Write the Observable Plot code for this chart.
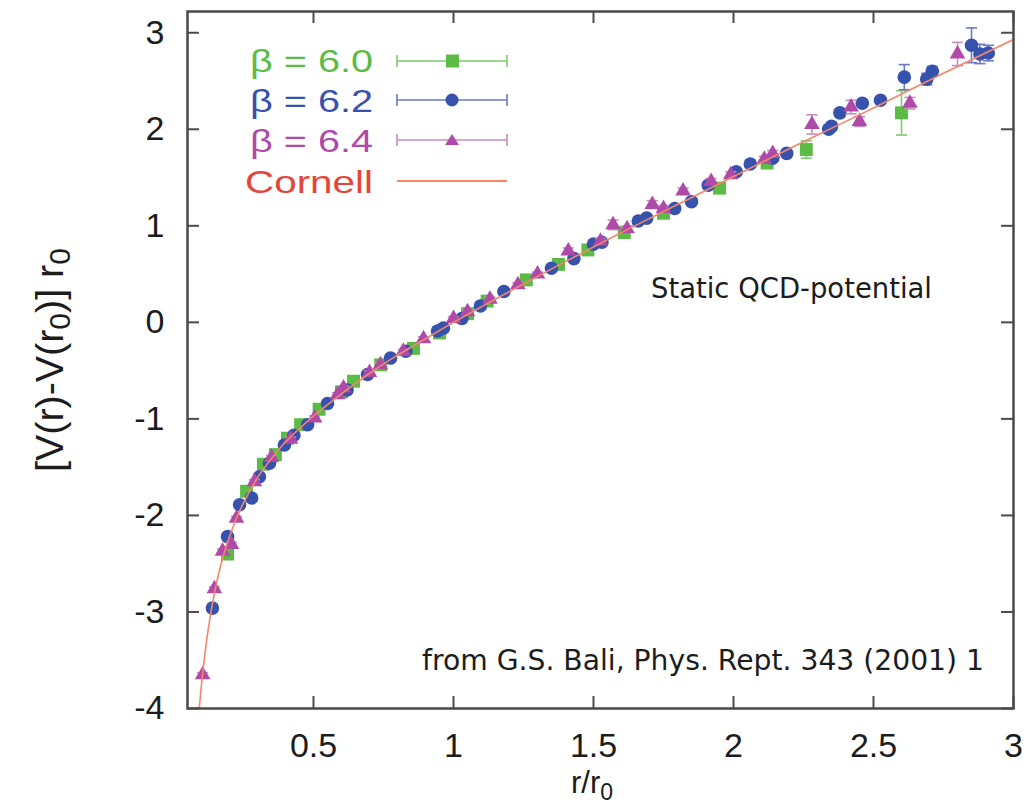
<!DOCTYPE html>
<html><head><meta charset="utf-8">
<script src="https://cdn.jsdelivr.net/npm/d3@7"></script>
<script src="https://cdn.jsdelivr.net/npm/@observablehq/plot@0.6"></script>
<style>
html,body{margin:0;padding:0;background:#fff;}
#wrap{position:relative;width:1036px;height:807px;overflow:hidden;background:#fff;}
#wrap > svg{position:absolute;left:0;top:0;}
</style></head><body><div id="wrap"></div>
<script>
// ---- data ----
const xTicks = [0.5, 1, 1.5, 2, 2.5, 3];
const yTicks = [-4, -3, -2, -1, 0, 1, 2, 3];

// beta = 6.0 (green squares)
const b60_r = [0.193, 0.261, 0.321, 0.364, 0.407, 0.454, 0.52, 0.60, 0.643, 0.74, 0.857, 0.95, 1.05, 1.12, 1.26, 1.375, 1.48, 1.61, 1.75, 1.95, 2.12, 2.26, 2.60];
const b60_v = [-2.40, -1.75, -1.47, -1.37, -1.20, -1.06, -0.90, -0.72, -0.61, -0.44, -0.27, -0.11, 0.09, 0.22, 0.44, 0.60, 0.75, 0.93, 1.13, 1.39, 1.65, 1.79, 2.17];
const b60_e = [0.03, 0.02, 0.02, 0.02, 0.02, 0.02, 0.02, 0.02, 0.02, 0.02, 0.02, 0.02, 0.02, 0.02, 0.02, 0.02, 0.02, 0.03, 0.03, 0.03, 0.04, 0.09, 0.23];

// beta = 6.2 (blue circles)
const b62_r = [0.139, 0.193, 0.236, 0.279, 0.307, 0.343, 0.396, 0.43, 0.479, 0.55, 0.62, 0.693, 0.775, 0.83, 0.943, 0.964, 1.03, 1.096, 1.18, 1.35, 1.43, 1.50, 1.53, 1.66, 1.69, 1.79, 1.85, 1.91, 2.01, 2.06, 2.14, 2.19, 2.34, 2.35, 2.38, 2.46, 2.525, 2.61, 2.69, 2.71, 2.85, 2.88, 2.91];
const b62_v = [-2.96, -2.22, -1.89, -1.82, -1.60, -1.46, -1.27, -1.17, -1.06, -0.84, -0.70, -0.54, -0.37, -0.30, -0.09, -0.06, 0.04, 0.17, 0.32, 0.56, 0.66, 0.81, 0.83, 1.05, 1.08, 1.18, 1.25, 1.42, 1.56, 1.64, 1.70, 1.75, 2.00, 2.03, 2.17, 2.27, 2.30, 2.54, 2.52, 2.60, 2.87, 2.78, 2.79];
const b62_e = [0.02, 0.02, 0.02, 0.02, 0.02, 0.02, 0.02, 0.02, 0.02, 0.02, 0.02, 0.02, 0.02, 0.02, 0.02, 0.02, 0.02, 0.02, 0.02, 0.02, 0.02, 0.02, 0.02, 0.02, 0.02, 0.02, 0.03, 0.03, 0.03, 0.03, 0.03, 0.03, 0.04, 0.04, 0.04, 0.03, 0.03, 0.13, 0.06, 0.05, 0.18, 0.10, 0.08];

// beta = 6.4 (purple triangles)
const b64_r = [0.104, 0.146, 0.175, 0.207, 0.225, 0.289, 0.35, 0.418, 0.504, 0.586, 0.607, 0.70, 0.739, 0.821, 0.893, 1.0, 1.05, 1.13, 1.23, 1.30, 1.41, 1.525, 1.57, 1.62, 1.71, 1.75, 1.82, 1.92, 1.99, 2.11, 2.14, 2.28, 2.42, 2.45, 2.63, 2.80];
const b64_v = [-3.65, -2.76, -2.37, -2.30, -2.03, -1.65, -1.40, -1.21, -0.99, -0.75, -0.68, -0.52, -0.44, -0.30, -0.17, 0.04, 0.11, 0.24, 0.39, 0.50, 0.74, 0.84, 1.01, 0.97, 1.22, 1.18, 1.36, 1.46, 1.53, 1.69, 1.75, 2.05, 2.23, 2.08, 2.27, 2.78];
const b64_e = [0.02, 0.02, 0.02, 0.02, 0.02, 0.02, 0.02, 0.02, 0.02, 0.02, 0.02, 0.02, 0.02, 0.02, 0.02, 0.02, 0.02, 0.02, 0.02, 0.02, 0.03, 0.03, 0.05, 0.03, 0.04, 0.03, 0.03, 0.03, 0.03, 0.03, 0.03, 0.10, 0.07, 0.05, 0.06, 0.12];

// Cornell curve
const cornell_r = [0.092, 0.1, 0.11, 0.12, 0.13, 0.14, 0.16, 0.18, 0.2, 0.225, 0.25, 0.3, 0.35, 0.4, 0.45, 0.5, 0.6, 0.7, 0.8, 0.9, 1.0, 1.2, 1.4, 1.6, 1.8, 2.0, 2.25, 2.5, 2.75, 3.0];
const cornell_v = [-4.0, -3.75, -3.49, -3.26, -3.07, -2.90, -2.62, -2.40, -2.22, -2.03, -1.87, -1.61, -1.41, -1.24, -1.10, -0.97, -0.74, -0.53, -0.34, -0.17, 0.0, 0.32, 0.63, 0.93, 1.22, 1.51, 1.87, 2.22, 2.58, 2.93];

const seriesNames = ["β = 6.0", "β = 6.2", "β = 6.4", "Cornell"];

// ---- styling ----
const C = {
  green: "#5cbb45", greenBar: "#80c970",
  blue: "#3652ad", blueBar: "#6b78c6",
  purple: "#b04aa8", purpleBar: "#c58ec1",
  line: "#f5866a", cornellText: "#e5463a",
  axis: "#4a4a4a", text: "#1c1c1c"
};
const W = 1036, H = 807;
const mL = 187, mR = 23, mT = 11, mB = 99;
const fw = W - mL - mR, fh = H - mT - mB;
const tick = 12;

const rows = (r, v, e) => r.map((x, i) => ({r: x, v: v[i], e: e[i]}));
const g60 = rows(b60_r, b60_v, b60_e);
const g62 = rows(b62_r, b62_v, b62_e);
const g64 = rows(b64_r, b64_v, b64_e);
const cornell = cornell_r.map((x, i) => ({r: x, v: cornell_v[i]}));

const cap = 0.02;
function errMarks(data, color) {
  return [
    Plot.ruleX(data, {x: "r", y1: d => d.v - d.e, y2: d => d.v + d.e, stroke: color, strokeWidth: 1.6}),
    Plot.link(data, {x1: d => d.r - cap, x2: d => d.r + cap, y1: d => d.v + d.e, y2: d => d.v + d.e, stroke: color, strokeWidth: 1.6}),
    Plot.link(data, {x1: d => d.r - cap, x2: d => d.r + cap, y1: d => d.v - d.e, y2: d => d.v - d.e, stroke: color, strokeWidth: 1.6})
  ];
}

const chart = Plot.plot({
  width: W, height: H,
  marginLeft: mL, marginRight: mR, marginTop: mT, marginBottom: mB,
  x: {domain: [0.05, 3.0]},
  y: {domain: [-4, 3.22]},
  style: {fontFamily: "'Liberation Sans', Arial, sans-serif", color: C.text, background: "transparent"},
  marks: [
    ...errMarks(g60, C.greenBar),
    Plot.dot(g60, {x: "r", y: "v", symbol: "square", r: 7.3, fill: C.green}),
    ...errMarks(g62, C.blueBar),
    Plot.dot(g62, {x: "r", y: "v", symbol: "circle", r: 6.8, fill: C.blue}),
    ...errMarks(g64, C.purpleBar),
    Plot.dot(g64, {x: "r", y: "v", symbol: "triangle", r: 5.8, fill: C.purple}),
    Plot.line(cornell, {x: "r", y: "v", stroke: C.line, strokeWidth: 1.6, curve: "natural", clip: true}),
    // inward tick marks on all four sides
    Plot.tickX(xTicks, {x: d => d, insetTop: fh - tick, stroke: C.axis, strokeWidth: 2}),
    Plot.tickX(xTicks, {x: d => d, insetBottom: fh - tick, stroke: C.axis, strokeWidth: 2}),
    Plot.tickY(yTicks, {y: d => d, insetRight: fw - tick, stroke: C.axis, strokeWidth: 2}),
    Plot.tickY(yTicks, {y: d => d, insetLeft: fw - tick, stroke: C.axis, strokeWidth: 2}),
    Plot.frame({stroke: C.axis, strokeWidth: 2.5}),
    Plot.axisX({ticks: xTicks, tickSize: 0, tickPadding: 24, label: null, fontSize: 34, tickFormat: d => String(d)}),
    Plot.axisY({ticks: yTicks, tickSize: 0, tickPadding: 23, label: null, fontSize: 34, tickFormat: d => String(d)})
  ]
});
const wrap = document.getElementById("wrap");
wrap.appendChild(chart);

// ---- overlay: axis titles, legend, annotations ----
const legendRows = [
  {name: seriesNames[0], color: C.green, bar: C.greenBar, sym: "square", cy: 61, base: 72},
  {name: seriesNames[1], color: C.blue, bar: C.blueBar, sym: "circle", cy: 100, base: 112},
  {name: seriesNames[2], color: C.purple, bar: C.purpleBar, sym: "triangle", cy: 140, base: 152},
  {name: seriesNames[3], color: C.cornellText, bar: C.line, sym: "line", cy: 181, base: 193}
];
const NS = "http://www.w3.org/2000/svg";
const ov = d3.create("svg").attr("width", W).attr("height", H).attr("xmlns", NS)
  .style("font-family", "'Liberation Sans', Arial, sans-serif");

// y axis title
const yl = ov.append("text").attr("transform", "translate(63,360) rotate(-90)")
  .attr("text-anchor", "middle").attr("font-size", 38).attr("fill", C.text)
  .attr("textLength", 224).attr("lengthAdjust", "spacingAndGlyphs");
yl.append("tspan").text("[V(r)-V(r");
yl.append("tspan").attr("font-size", 29).attr("dy", 7).text("0");
yl.append("tspan").attr("dy", -7).text(")] r");
yl.append("tspan").attr("font-size", 29).attr("dy", 7).text("0");

// x axis title
const xl = ov.append("text").attr("x", 592).attr("y", 793).attr("text-anchor", "middle")
  .attr("font-size", 31).attr("fill", C.text);
xl.append("tspan").text("r/r");
xl.append("tspan").attr("font-size", 23).attr("dy", 7).text("0");

// legend
const widths = [123, 123, 123, 128];
legendRows.forEach((L, i) => {
  ov.append("text").attr("x", 373).attr("y", L.base).attr("text-anchor", "end")
    .attr("font-size", 32).attr("fill", L.color)
    .attr("textLength", widths[i]).attr("lengthAdjust", "spacingAndGlyphs").text(L.name);
  const g = ov.append("g");
  g.append("line").attr("x1", 397).attr("x2", 507).attr("y1", L.cy).attr("y2", L.cy)
    .attr("stroke", L.bar).attr("stroke-width", L.sym === "line" ? 2 : 1.6);
  if (L.sym !== "line") {
    [397, 507].forEach(x => g.append("line").attr("x1", x).attr("x2", x)
      .attr("y1", L.cy - 6).attr("y2", L.cy + 6).attr("stroke", L.bar).attr("stroke-width", 1.6));
    if (L.sym === "square") g.append("rect").attr("x", 446).attr("y", L.cy - 6.5).attr("width", 13).attr("height", 13).attr("fill", L.color);
    if (L.sym === "circle") g.append("circle").attr("cx", 452).attr("cy", L.cy).attr("r", 6.5).attr("fill", L.color);
    if (L.sym === "triangle") g.append("path").attr("d", `M452,${L.cy - 6}L459,${L.cy + 5}L445,${L.cy + 5}Z`).attr("fill", L.color);
  }
});

// annotations
ov.append("text").attr("x", 651).attr("y", 298).attr("font-family", "'DejaVu Sans', Verdana, sans-serif")
  .attr("font-size", 29).attr("fill", C.text).attr("textLength", 281).attr("lengthAdjust", "spacingAndGlyphs")
  .text("Static QCD-potential");
ov.append("text").attr("x", 422).attr("y", 670).attr("font-family", "'DejaVu Sans', Verdana, sans-serif")
  .attr("font-size", 29).attr("fill", C.text).attr("textLength", 562).attr("lengthAdjust", "spacingAndGlyphs")
  .text("from G.S. Bali, Phys. Rept. 343 (2001) 1");

wrap.appendChild(ov.node());
</script></body></html>
